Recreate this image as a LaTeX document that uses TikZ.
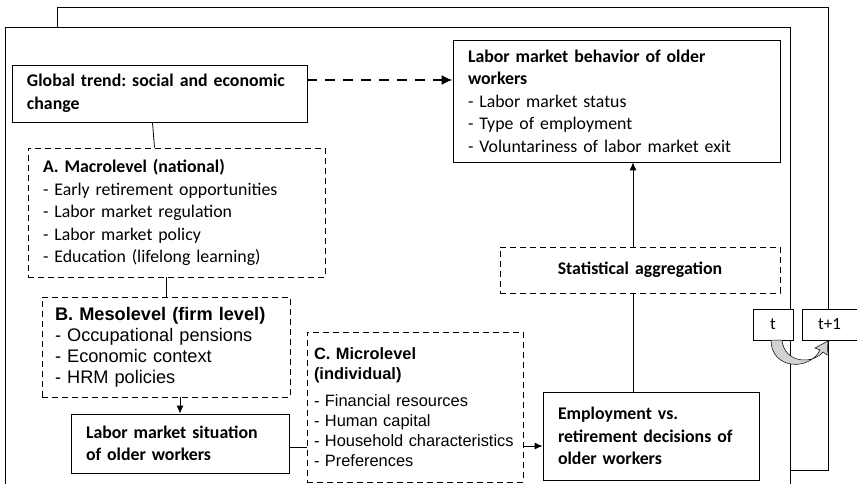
\documentclass[tikz,border=0pt]{standalone}
\usepackage{fontspec}
\setmainfont{Carlito}
\newfontfamily\arialfont{Liberation Sans}
\usetikzlibrary{arrows.meta}
\frenchspacing
\begin{document}
\begin{tikzpicture}[x=1pt,y=-1pt,
	box/.style={draw, line width=0.8pt, rectangle, inner xsep=15pt, inner ysep=0pt, align=left, font=\fontsize{17.8}{22.5}\selectfont},
	dbox/.style={box, dash pattern=on 6pt off 4pt},
	arr/.style={-{Latex[length=8pt,width=7pt]}, line width=0.8pt},
	tbox/.style={draw, fill=white, line width=0.8pt, inner sep=0pt, minimum height=31pt, font=\fontsize{17}{18}\selectfont}]
	\useasboundingbox (0,0) rectangle (857,484);
	%frames
	\draw[line width=0.9pt] (5,484) -- (5,27) -- (790,27) -- (790,484);
	\draw[line width=0.9pt] (57,27) -- (57,7) -- (828,7) -- (828,470) -- (790,470);
	
	%boxes
	\node[box, text width=265pt, minimum height=57pt] (trend) at (159.5,93.5) {\textbf{Global trend: social and economic}\\\textbf{change}};
	\node[box, text width=297pt, minimum height=122pt] (behav) at (616.5,101) {\textbf{Labor market behavior of older}\\\textbf{workers}\\- Labor market status\\- Type of employment\\- Voluntariness of labor market exit};
	\node[dbox, text width=267pt, minimum height=129pt] (macro) at (176.5,212.5) {\textbf{A. Macrolevel (national)}\\- Early retirement opportunities\\- Labor market regulation\\- Labor market policy\\- Education (lifelong learning)};
	\node[dbox, inner xsep=13pt, text width=222pt, minimum height=100pt, font=\arialfont\fontsize{18.2}{21}\selectfont] (meso) at (166,347) {\textbf{B. Mesolevel (firm level)}\\- Occupational pensions\\- Economic context\\- HRM policies};
	\node[box, text width=188pt, minimum height=59pt] (situ) at (180,443.5) {\textbf{Labor market situation}\\\textbf{of older workers}};
	\node[dbox, inner xsep=7pt, text width=202pt, minimum height=150pt, font=\arialfont\fontsize{16.4}{20}\selectfont] (micro) at (415,407) {\textbf{C. Microlevel}\\\textbf{(individual)}\\[7pt]- Financial resources\\- Human capital\\- Household characteristics\\- Preferences};
	\node[box, text width=186pt, minimum height=88pt] (empl) at (651,436) {\textbf{Employment vs.}\\\textbf{retirement decisions of}\\\textbf{older workers}};
	\node[dbox, align=center, text width=250pt, minimum height=46pt] (stat) at (640,270) {\textbf{Statistical aggregation}};
	\node[tbox, minimum width=40pt] (t0) at (773,324.5) {t};
	\node[tbox, minimum width=55pt] (t1) at (829.5,324.5) {t+1};
	
	%connectors
	\draw[line width=0.8pt] ([xshift=-7pt]trend.south) -- ([xshift=-5pt]trend.south |- macro.north);
	\draw[line width=0.8pt] (meso.north |- macro.south) -- (meso.north);
	\draw[arr] (situ.north |- meso.south) -- (situ.north);
	\draw[line width=0.8pt] ([yshift=-3.5pt]situ.east) -- ([yshift=-3.5pt]situ.east -| micro.west);
	\draw[arr] ([yshift=-10pt]micro.east |- empl.west) -- ([yshift=-10pt]empl.west);
	\draw[line width=0.8pt] ([xshift=-18pt]empl.north) -- ([xshift=-18pt]empl.north |- stat.south);
	\draw[arr] ([xshift=-7pt]stat.north) -- ([xshift=-7pt]stat.north |- behav.south);
	\draw[line width=2pt, dash pattern=on 10pt off 8pt, -{Latex[length=11pt,width=10pt]}] ([yshift=13.5pt]trend.east) -- ([yshift=13.5pt]trend.east -| behav.west);
	
	%time step
	\filldraw[fill=gray!35, draw=black, line width=0.5pt] (771,340) .. controls (771,370) and (810,371) .. (820,350) -- (815,348) -- (828,341) -- (827,355) -- (823,352) .. controls (812,365) and (784,363) .. (782,340) -- cycle;
\end{tikzpicture}
\end{document}
